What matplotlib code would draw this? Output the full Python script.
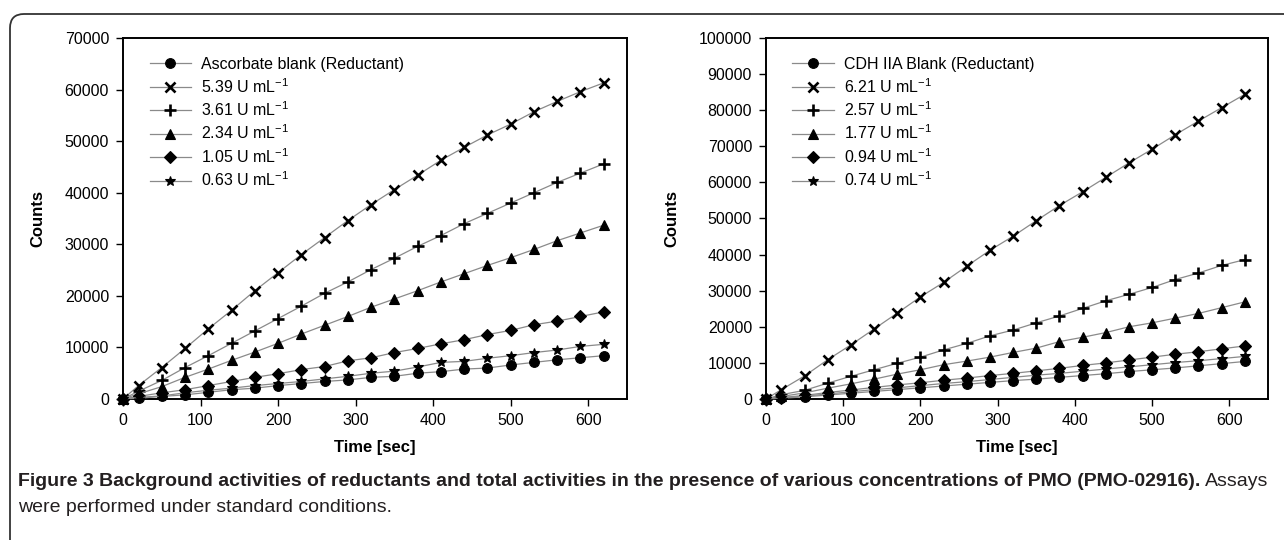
import matplotlib
matplotlib.use('Agg')
import matplotlib.pyplot as plt
from matplotlib.patches import FancyBboxPatch
from matplotlib.transforms import IdentityTransform

# время отбора проб, с
t = [0, 20, 50, 80, 110, 140, 170, 200, 230, 260, 290, 320, 350, 380, 410,
     440, 470, 500, 530, 560, 590, 620]

# левая панель: аскорбат
left_labels = ['Ascorbate blank (Reductant)', '5.39 U mL$^{-1}$', '3.61 U mL$^{-1}$',
               '2.34 U mL$^{-1}$', '1.05 U mL$^{-1}$', '0.63 U mL$^{-1}$']
asc_blank = [0, 150, 500, 800, 1300, 1800, 2100, 2600, 3000, 3400, 3700, 4200,
             4400, 5000, 5300, 5800, 6000, 6600, 7100, 7600, 8000, 8400]
asc_539 = [0, 2600, 6100, 9800, 13600, 17200, 21000, 24500, 28000, 31300, 34600,
           37700, 40600, 43400, 46300, 48800, 51200, 53300, 55700, 57700, 59600, 61300]
asc_361 = [0, 1500, 3600, 6100, 8400, 10800, 13200, 15600, 18000, 20500, 22700,
           25100, 27300, 29600, 31700, 34000, 36000, 38000, 40000, 42000, 43800, 45600]
asc_234 = [0, 1000, 2400, 4200, 5800, 7500, 9100, 10800, 12600, 14300, 16000,
           17800, 19400, 21000, 22700, 24300, 25900, 27400, 29000, 30700, 32200, 33700]
asc_105 = [0, 500, 1200, 1800, 2600, 3400, 4200, 4900, 5700, 6300, 7400, 8000,
           9000, 9800, 10700, 11500, 12500, 13300, 14400, 15100, 16000, 16900]
asc_063 = [0, 300, 600, 1200, 1700, 2100, 2600, 3000, 3400, 3900, 4400, 5000,
           5400, 6200, 7100, 7300, 7900, 8400, 9000, 9500, 10200, 10600]

# правая панель: CDH IIA
right_labels = ['CDH IIA Blank (Reductant)', '6.21 U mL$^{-1}$', '2.57 U mL$^{-1}$',
                '1.77 U mL$^{-1}$', '0.94 U mL$^{-1}$', '0.74 U mL$^{-1}$']
cdh_blank = [0, 200, 600, 1100, 1600, 2100, 2600, 3100, 3600, 4100, 4600, 5100,
             5500, 6000, 6500, 7000, 7600, 8100, 8600, 9200, 9800, 10400]
cdh_621 = [0, 2600, 6400, 10900, 15000, 19400, 23800, 28300, 32300, 36800, 41200,
           45100, 49400, 53600, 57400, 61400, 65400, 69200, 73200, 77000, 80700, 84400]
cdh_257 = [0, 1200, 2400, 4400, 6300, 8100, 9900, 11600, 13600, 15400, 17500,
           19100, 21100, 23000, 25100, 27200, 29000, 30900, 33100, 34900, 37000, 38600]
cdh_177 = [0, 700, 1700, 3000, 4200, 5500, 6900, 8100, 9500, 10500, 11600, 12900,
           14100, 15900, 17100, 18400, 20000, 21100, 22400, 23700, 25300, 26900]
cdh_094 = [0, 400, 1000, 1800, 2500, 3200, 3900, 4500, 5200, 5800, 6500, 7100,
           7800, 8500, 9300, 10000, 10800, 11600, 12400, 13100, 13900, 14700]
cdh_074 = [0, 300, 800, 1400, 2000, 2600, 3100, 3700, 4300, 4800, 5400, 6000,
           6600, 7100, 7700, 8300, 8900, 9500, 10100, 10600, 11200, 11800]

markers = ['o', 'x', '+', '^', 'D', '*']
msizes = [7, 7.5, 8.5, 7, 6, 7.5]

plt.rcParams['font.family'] = ['Liberation Sans', 'DejaVu Sans']
plt.rcParams['mathtext.fontset'] = 'custom'
plt.rcParams['mathtext.rm'] = 'Liberation Sans'
plt.rcParams['mathtext.it'] = 'Liberation Sans:italic'
plt.rcParams['mathtext.bf'] = 'Liberation Sans:bold'

fig = plt.figure(figsize=(12.84, 5.4), dpi=100)
fig.patch.set_facecolor('white')

# рамка вокруг рисунка
box = FancyBboxPatch((10, -60), 1400, 526 + 60, boxstyle='round,pad=0,rounding_size=14',
                     transform=IdentityTransform(), facecolor='none',
                     edgecolor='#333333', linewidth=1.3)
fig.add_artist(box)


def panel(ax, series, labels, ymax):
    for y, m, ms, lab in zip(series, markers, msizes, labels):
        ax.plot(t, y, color='#8a8a8a', lw=0.9, marker=m, markersize=ms,
                markerfacecolor='black', markeredgecolor='black',
                markeredgewidth=1.9 if m in ('x', '+') else 0.8,
                label=lab, clip_on=False, zorder=3)
    ax.set_xlim(0, 650)
    ax.set_ylim(0, ymax)
    ax.set_xticks([0, 100, 200, 300, 400, 500, 600])
    ax.set_yticks(range(0, ymax + 1, 10000))
    ax.tick_params(direction='out', length=5, width=1, labelsize=11.5, pad=5)
    for s in ax.spines.values():
        s.set_linewidth(1.4)
    ax.set_xlabel('Time [sec]', fontsize=12, fontweight='bold', labelpad=9)
    ax.set_ylabel('Counts', fontsize=12, fontweight='bold', labelpad=14)
    ax.legend(loc='upper left', bbox_to_anchor=(0.04, 0.965), frameon=False,
              fontsize=11.5, handlelength=2.6, handletextpad=0.6,
              labelspacing=0.3, borderaxespad=0)


ax1 = fig.add_axes([123 / 1284, 1 - 399 / 540, 504 / 1284, 361 / 540])
panel(ax1, [asc_blank, asc_539, asc_361, asc_234, asc_105, asc_063],
      left_labels, 70000)

ax2 = fig.add_axes([766 / 1284, 1 - 399 / 540, 502 / 1284, 361 / 540])
panel(ax2, [cdh_blank, cdh_621, cdh_257, cdh_177, cdh_094, cdh_074],
      right_labels, 100000)

# подпись: подбираем размер шрифта под ширину строки
capcol = '#231f20'
fig.canvas.draw()
r = fig.canvas.get_renderer()
tb = fig.text(18 / 1284, 1 - 481 / 540, 'Figure 3 Background activities of reductants and total '
              'activities in the presence of various concentrations of PMO (PMO-02916).',
              fontsize=13, fontweight='bold', color=capcol, va='center')
w = tb.get_window_extent(renderer=r).width
fs = 13 * 1180 / w
tb.set_fontsize(fs)
bb = tb.get_window_extent(renderer=r)
fig.text((bb.x1 + 5) / 1284, 1 - 481 / 540, 'Assays', fontsize=fs,
         color=capcol, va='center')
fig.text(18 / 1284, 1 - 507 / 540, 'were performed under standard conditions.',
         fontsize=fs, color=capcol, va='center')

fig.savefig('out.png', dpi=100)
